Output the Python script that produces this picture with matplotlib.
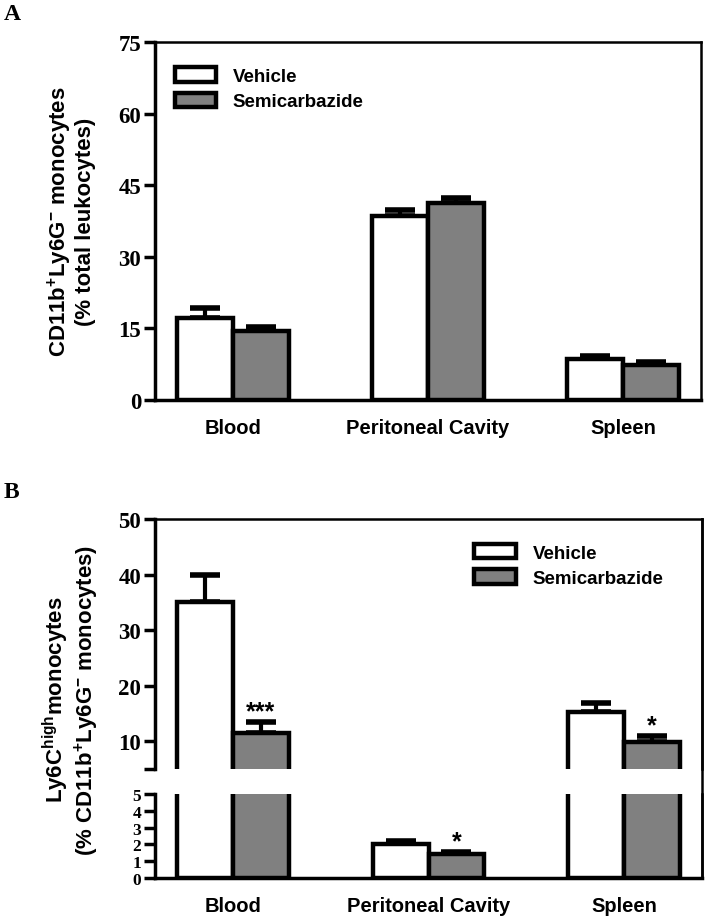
import matplotlib
matplotlib.use('Agg')
import numpy as np
import matplotlib.pyplot as plt
from matplotlib.lines import Line2D


categories = ['Blood', 'Peritoneal Cavity', 'Spleen']
groups = ['Vehicle', 'Semicarbazide']

# panel A: CD11b+Ly6G- monocytes (% total leukocytes)
a_vehicle = [17.2, 38.6, 8.6]
a_vehicle_err = [2.1, 1.2, 0.6]
a_semi = [14.5, 41.3, 7.3]
a_semi_err = [0.7, 1.0, 0.6]

# panel B: Ly6C high monocytes (% CD11b+Ly6G- monocytes)
b_vehicle = [35.0, 2.0, 15.3]
b_vehicle_err = [5.0, 0.2, 1.6]
b_semi = [11.4, 1.4, 9.8]
b_semi_err = [2.0, 0.15, 1.1]
b_stars = ['***', '*', '*']

plt.rcParams['font.family'] = 'Liberation Sans'
plt.rcParams['font.weight'] = 'bold'
plt.rcParams['mathtext.fontset'] = 'custom'
plt.rcParams['mathtext.rm'] = 'Liberation Sans:bold'
plt.rcParams['mathtext.bf'] = 'Liberation Sans:bold'
plt.rcParams['mathtext.default'] = 'bf'

W, H = 708, 920
fig = plt.figure(figsize=(W / 100, H / 100), dpi=100)


def box(l, t, r, b):
    return [l / W, 1 - b / H, (r - l) / W, (b - t) / H]


x = np.arange(len(categories))
bw = 0.285
gray = '#808080'
lw = 3.2
serif = 'Liberation Serif'


def draw_bars(ax, veh, veh_err, sem, sem_err):
    b1 = ax.bar(x - bw / 2, veh, bw, color='white', edgecolor='black', linewidth=lw, zorder=2)
    b2 = ax.bar(x + bw / 2, sem, bw, color=gray, edgecolor='black', linewidth=lw, zorder=2)
    ax.errorbar(x - bw / 2, veh, yerr=[np.zeros(3), veh_err], fmt='none', ecolor='black',
                elinewidth=3, capsize=11, capthick=4, zorder=1)
    ax.errorbar(x + bw / 2, sem, yerr=[np.zeros(3), sem_err], fmt='none', ecolor='black',
                elinewidth=3, capsize=11, capthick=4, zorder=1)
    ax.set_xlim(-0.4, 2.4)
    return b1, b2


def style(ax, ysize=16.5):
    ax.spines['left'].set_linewidth(2.5)
    ax.spines['bottom'].set_linewidth(2.5)
    ax.spines['top'].set_linewidth(1.8)
    ax.spines['right'].set_linewidth(1.8)
    ax.tick_params(axis='y', direction='out', length=8, width=2.5, pad=2, labelsize=ysize)
    ax.tick_params(axis='x', length=0, pad=13, labelsize=14.5)
    for t in ax.get_yticklabels():
        t.set_fontfamily(serif)
        t.set_fontweight('bold')


leg_kw = dict(frameon=False, fontsize=13.5, handlelength=2.2, handleheight=0.8,
              handletextpad=0.9, labelspacing=0.4, borderaxespad=0)

# ---------- panel A ----------
axA = fig.add_axes(box(155, 43, 701, 401))
hA = draw_bars(axA, a_vehicle, a_vehicle_err, a_semi, a_semi_err)
axA.set_ylim(0, 75)
axA.set_yticks([0, 15, 30, 45, 60, 75])
axA.set_xticks(x)
axA.set_xticklabels(categories)
style(axA)
axA.legend(hA, groups, loc='upper left', bbox_to_anchor=(0.022, 0.95), **leg_kw)

# ---------- panel B (broken axis) ----------
axB = fig.add_axes(box(155, 520, 702, 770))
axB2 = fig.add_axes(box(155, 795, 702, 879))
hB = draw_bars(axB, b_vehicle, b_vehicle_err, b_semi, b_semi_err)
draw_bars(axB2, b_vehicle, b_vehicle_err, b_semi, b_semi_err)

axB.set_ylim(5, 50)
axB.set_yticks([5, 10, 20, 30, 40, 50])
axB.set_yticklabels(['', '10', '20', '30', '40', '50'])
axB.set_xticks([])
axB.spines['bottom'].set_visible(False)

axB2.set_ylim(0, 5)
axB2.set_yticks([0, 1, 2, 3, 4, 5])
axB2.set_xticks(x)
axB2.set_xticklabels(categories)
axB2.spines['top'].set_visible(False)
style(axB)
style(axB2, ysize=12.5)

# right spine runs through the gap
fig.add_artist(Line2D([702 / W, 702 / W], [1 - 879 / H, 1 - 520 / H], color='black', lw=1.8))

for i, s in enumerate(b_stars):
    y = b_semi[i] + b_semi_err[i]
    target = axB if y > 5 else axB2
    target.annotate(s, (x[i] + bw / 2, y), xytext=(0, -1), textcoords='offset points',
                    ha='center', va='bottom', fontsize=18, fontweight='bold')

axB.legend(hB, groups, loc='upper left', bbox_to_anchor=(0.57, 0.93), **leg_kw)

# y labels
fig.text(71 / W, 1 - 222 / H, 'CD11b$^{+}$Ly6G$^{-}$ monocytes\n(% total leukocytes)',
         rotation=90, ha='center', va='center', fontsize=16, fontweight='bold',
         multialignment='center', linespacing=1.05)
fig.text(71 / W, 1 - 700 / H, 'Ly6C$^{high}$monocytes\n(% CD11b$^{+}$Ly6G$^{-}$ monocytes)',
         rotation=90, ha='center', va='center', fontsize=16, fontweight='bold',
         multialignment='center', linespacing=1.05)

fig.text(4 / W, 1 - 4 / H, 'A', fontfamily=serif, fontweight='bold', fontsize=17, va='top')
fig.text(4 / W, 1 - 482 / H, 'B', fontfamily=serif, fontweight='bold', fontsize=17, va='top')

fig.savefig('out.png', dpi=100)
